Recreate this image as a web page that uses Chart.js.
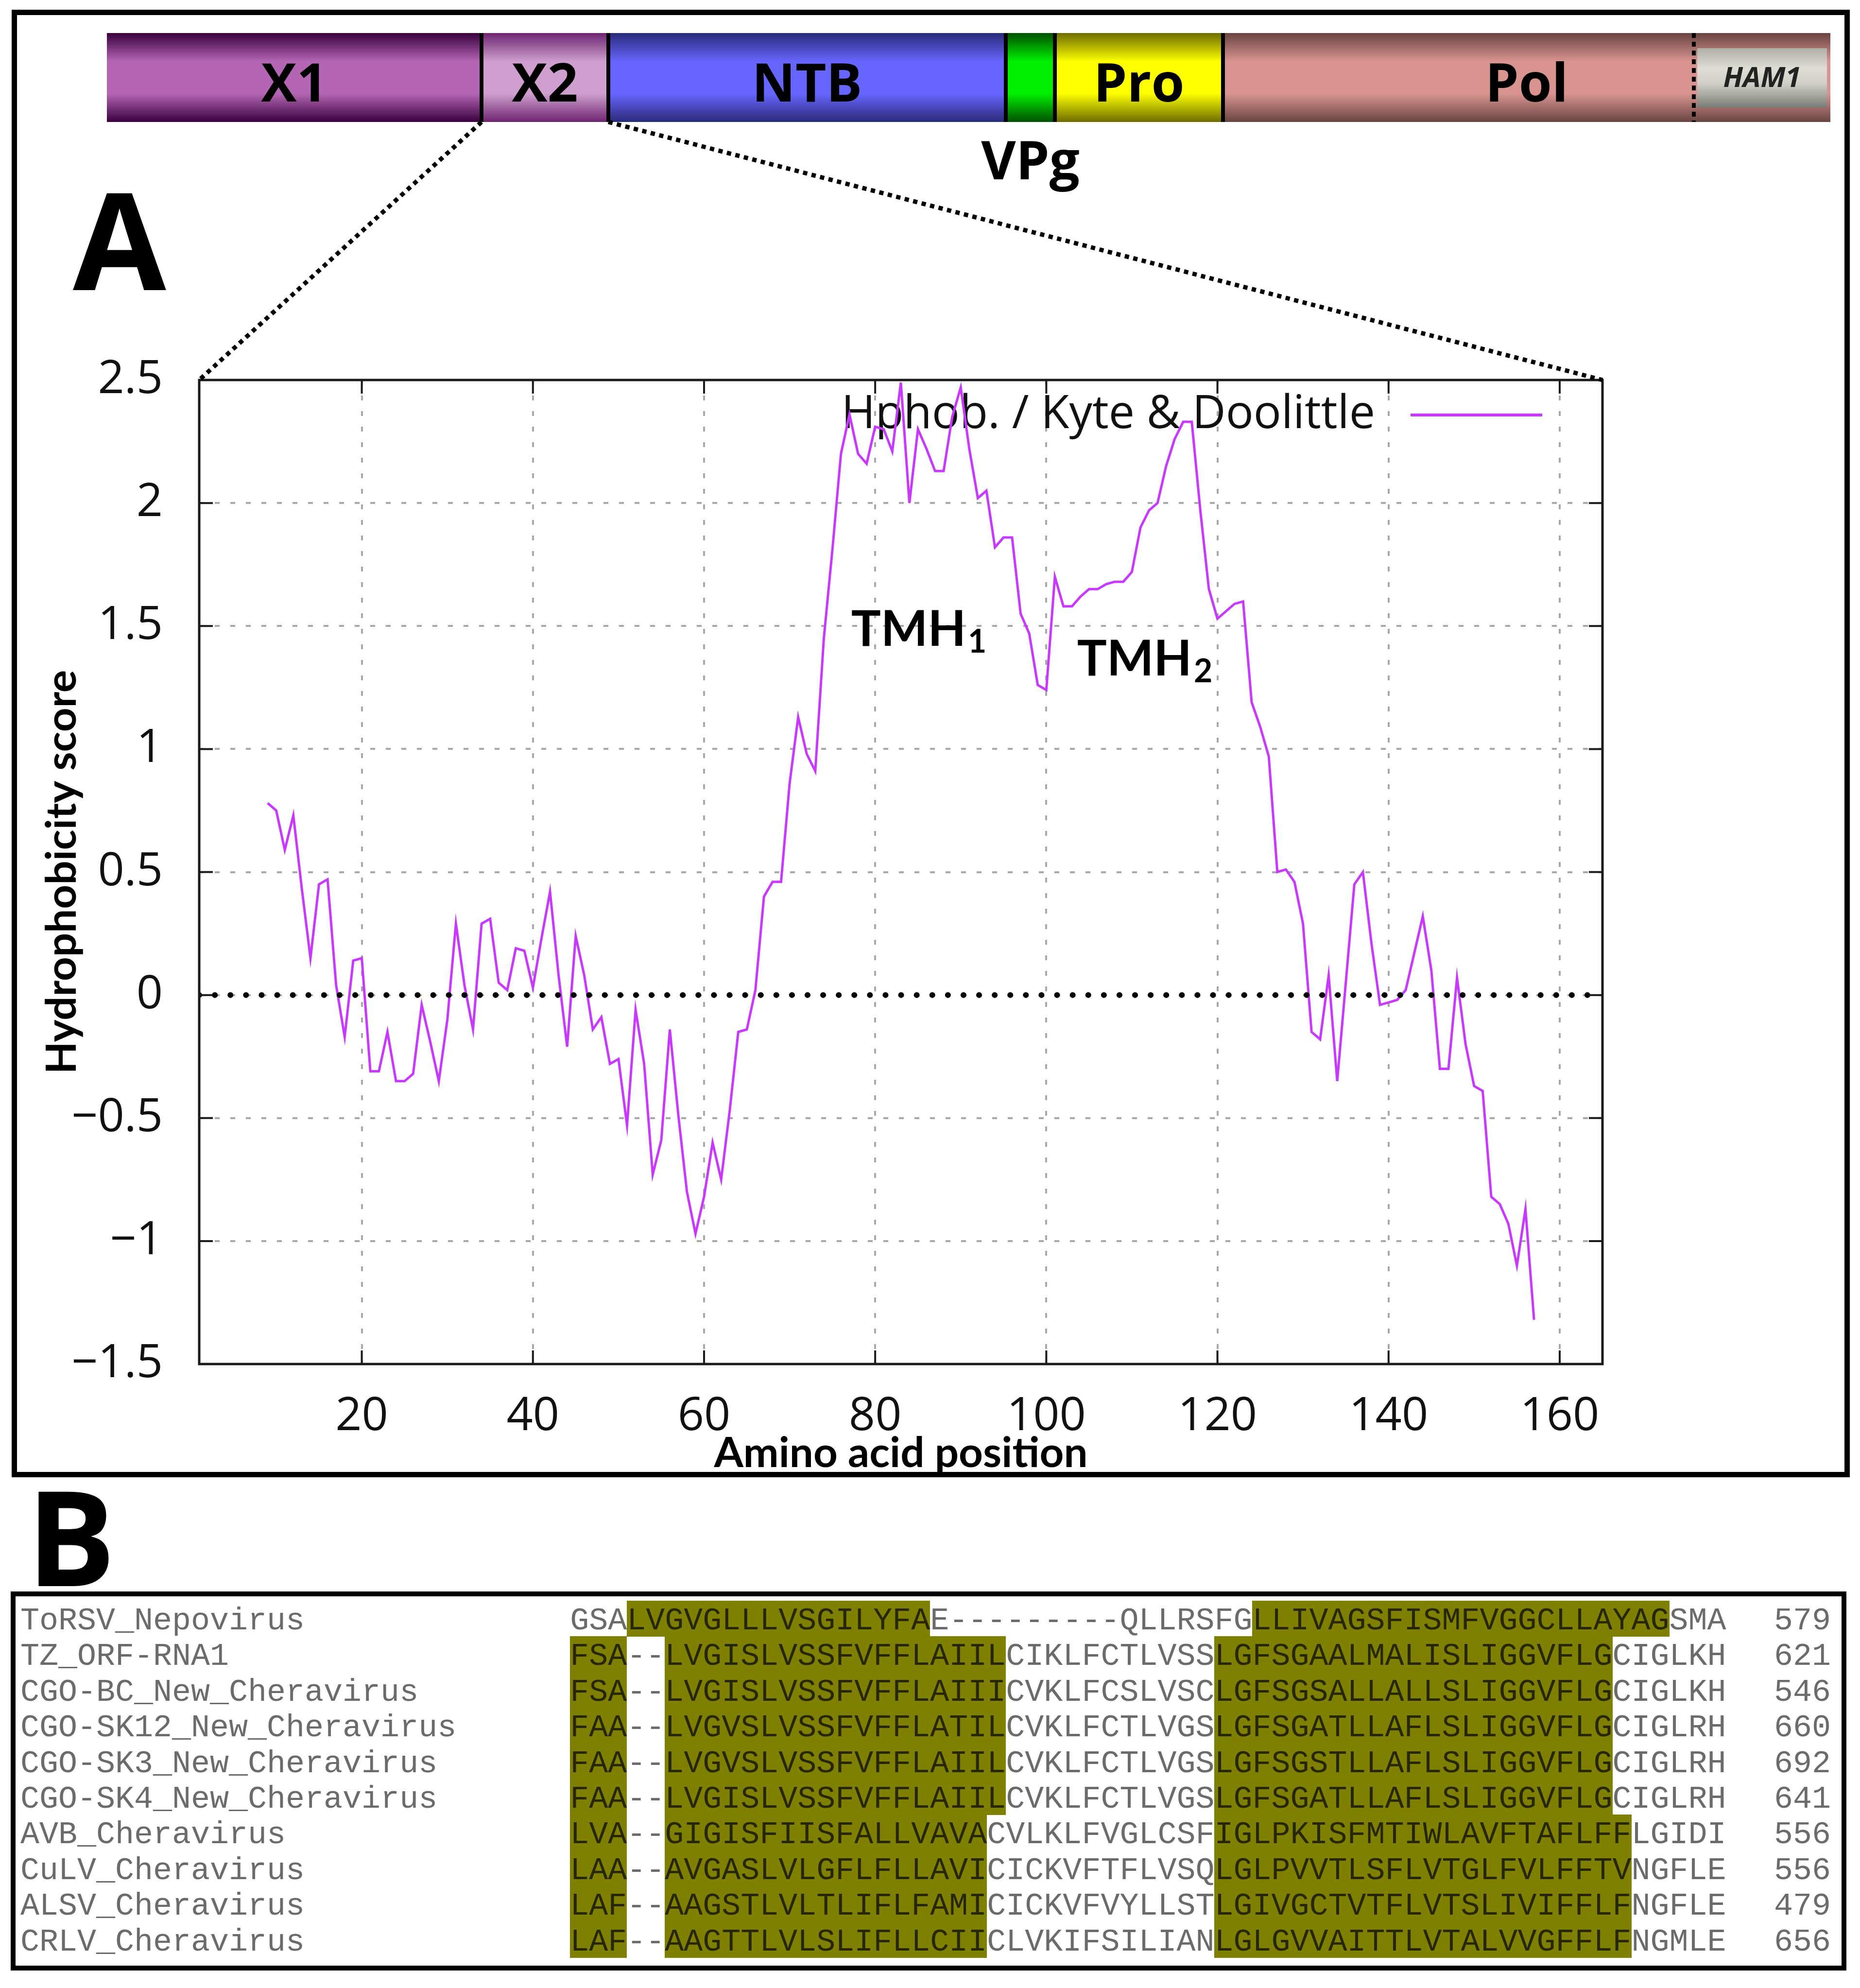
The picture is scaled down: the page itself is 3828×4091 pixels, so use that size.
<!DOCTYPE html>
<html>
<head>
<meta charset="utf-8">
<title>Hydrophobicity profile of the X2 region</title>
<script src="https://cdn.jsdelivr.net/npm/chart.js@4.4.1/dist/chart.umd.min.js"></script>
<style>
  html, body { margin: 0; padding: 0; background: #fff; }
  body { position: relative; width: 3828px; height: 4091px; overflow: hidden; }
  .frame { position: absolute; box-sizing: border-box; border: 11px solid #000; }
  #boxA { left: 24px; top: 20px; width: 3783px; height: 3020px; }
  #boxB { left: 22px; top: 3275px; width: 3778px; height: 780px; border-width: 10px; }
  .panel-letter { position: absolute; font-family: "Open Sans", sans-serif; font-weight: bold; line-height: 1; color: #000; }
  #letterA { left: 150px; top: 350px; font-size: 278px; }
  #letterB { left: 55px; top: 3023px; font-size: 272px; }
  #geneWrap { position: absolute; left: 220px; top: 68px; }
  #plotWrap { position: absolute; left: 30px; top: 650px; }
  #links { position: absolute; left: 0; top: 0; pointer-events: none; }
  .aln-row { position: absolute; left: 42px; height: 74px; white-space: pre;
             font-family: "Liberation Mono", monospace; font-size: 65px; line-height: 85px; }
  .aln-row span { display: inline-block; height: 74px; vertical-align: top; }
  .aln-row .plain { color: #6b6b6b; }
  .aln-row .tm { background: #808000; color: #262600; }
  .aln-num { position: absolute; left: 3600px; width: 168px; height: 74px; text-align: right;
             font-family: "Liberation Mono", monospace; font-size: 65px; line-height: 85px; color: #6b6b6b; }
</style>
</head>
<body>
<div id="boxA" class="frame"></div>
<div id="boxB" class="frame"></div>
<div id="letterA" class="panel-letter">A</div>
<div id="letterB" class="panel-letter">B</div>
<div id="geneWrap"><canvas id="geneMap" width="3547" height="340"></canvas></div>
<div id="plotWrap"><canvas id="hydroPlot" width="3440" height="2420"></canvas></div>
<div id="alignment"></div>
<canvas id="links" width="3828" height="4091"></canvas>

<script>
// ---- Panel A: genome map ----
const genomeRegions = ['X1', 'X2', 'NTB', 'VPg', 'Pro', 'Pol', 'HAM1'];
const regionLengths = [771, 261, 818, 101, 346, 969, 281];
const regionColors = ['#b466b4', '#cfa0cf', '#6666ff', '#00f000', '#ffff00', '#d9948f', '#d9948f'];
const regionShades = ['#3a003c', '#6e2470', '#2a2a78', '#005000', '#6c6c00', '#684440', '#684440'];

// ---- Panel A: Kyte & Doolittle profile ----
const firstResidue = 9;
const hydropathy = [
  0.78, 0.75, 0.59, 0.73, 0.43, 0.15, 0.45, 0.47, 0.04, -0.17,
  0.14, 0.15, -0.31, -0.31, -0.15, -0.35, -0.35, -0.32, -0.04, -0.19,
  -0.35, -0.10, 0.29, 0.04, -0.14, 0.29, 0.31, 0.05, 0.02, 0.19,
  0.18, 0.03, 0.23, 0.42, 0.08, -0.21, 0.24, 0.08, -0.14, -0.09,
  -0.28, -0.26, -0.53, -0.06, -0.28, -0.73, -0.59, -0.14, -0.49, -0.80,
  -0.97, -0.82, -0.60, -0.75, -0.47, -0.15, -0.14, 0.02, 0.40, 0.46,
  0.46, 0.86, 1.13, 0.98, 0.91, 1.45, 1.81, 2.20, 2.36, 2.20,
  2.16, 2.31, 2.30, 2.21, 2.49, 2.00, 2.30, 2.22, 2.13, 2.13,
  2.35, 2.47, 2.22, 2.02, 2.05, 1.82, 1.86, 1.86, 1.55, 1.47,
  1.26, 1.24, 1.70, 1.58, 1.58, 1.62, 1.65, 1.65, 1.67, 1.68,
  1.68, 1.72, 1.90, 1.97, 2.00, 2.15, 2.26, 2.33, 2.33, 1.97,
  1.65, 1.53, 1.56, 1.59, 1.60, 1.19, 1.09, 0.97, 0.50, 0.51,
  0.46, 0.29, -0.15, -0.18, 0.08, -0.35, 0.05, 0.45, 0.50, 0.21,
  -0.04, -0.03, -0.02, 0.02, 0.17, 0.32, 0.10, -0.30, -0.30, 0.07,
  -0.20, -0.37, -0.39, -0.82, -0.85, -0.93, -1.10, -0.87, -1.32
];
const xRange = [1, 165];
const xTicks = [20, 40, 60, 80, 100, 120, 140, 160];
const yTicks = [-1.5, -1, -0.5, 0, 0.5, 1, 1.5, 2, 2.5];
const yTickLabels = ['\u22121.5', '\u22121', '\u22120.5', '0', '0.5', '1', '1.5', '2', '2.5'];
const helixLabels = [
  { name: 'TMH', index: '1', x: 77.2, y: 1.42 },
  { name: 'TMH', index: '2', x: 103.6, y: 1.30 }
];

// ---- Panel B: alignment ----
const seqNames = [
  'ToRSV_Nepovirus', 'TZ_ORF-RNA1', 'CGO-BC_New_Cheravirus', 'CGO-SK12_New_Cheravirus',
  'CGO-SK3_New_Cheravirus', 'CGO-SK4_New_Cheravirus', 'AVB_Cheravirus', 'CuLV_Cheravirus',
  'ALSV_Cheravirus', 'CRLV_Cheravirus'
];
const seqAligned = [
  'GSALVGVGLLLVSGILYFAE---------QLLRSFGLLIVAGSFISMFVGGCLLAYAGSMA',
  'FSA--LVGISLVSSFVFFLAIILCIKLFCTLVSSLGFSGAALMALISLIGGVFLGCIGLKH',
  'FSA--LVGISLVSSFVFFLAIIICVKLFCSLVSCLGFSGSALLALLSLIGGVFLGCIGLKH',
  'FAA--LVGVSLVSSFVFFLATILCVKLFCTLVGSLGFSGATLLAFLSLIGGVFLGCIGLRH',
  'FAA--LVGVSLVSSFVFFLAIILCVKLFCTLVGSLGFSGSTLLAFLSLIGGVFLGCIGLRH',
  'FAA--LVGISLVSSFVFFLAIILCVKLFCTLVGSLGFSGATLLAFLSLIGGVFLGCIGLRH',
  'LVA--GIGISFIISFALLVAVACVLKLFVGLCSFIGLPKISFMTIWLAVFTAFLFFLGIDI',
  'LAA--AVGASLVLGFLFLLAVICICKVFTFLVSQLGLPVVTLSFLVTGLFVLFFTVNGFLE',
  'LAF--AAGSTLVLTLIFLFAMICICKVFVYLLSTLGIVGCTVTFLVTSLIVIFFLFNGFLE',
  'LAF--AAGTTLVLSLIFLLCIICLVKIFSILIANLGLGVVAITTLVTALVVGFFLFNGMLE'
];
const seqLastResidue = [579, 621, 546, 660, 692, 641, 556, 556, 479, 656];
const seqHelixCols = [
  [[4, 19], [37, 58]],
  [[1, 3], [6, 23], [35, 55]],
  [[1, 3], [6, 23], [35, 55]],
  [[1, 3], [6, 23], [35, 55]],
  [[1, 3], [6, 23], [35, 55]],
  [[1, 3], [6, 23], [35, 55]],
  [[1, 3], [6, 22], [35, 56]],
  [[1, 3], [6, 22], [35, 56]],
  [[1, 3], [6, 22], [35, 56]],
  [[1, 3], [6, 22], [35, 56]]
];

document.addEventListener('DOMContentLoaded', () => {
  const geneChart = initGenomeMap();
  const plotChart = initHydroPlot();
  drawZoomLinks(geneChart, plotChart);
  buildAlignment();
});

/**
 * Cylinder-like vertical shading for one genome segment
 */
function segmentGradient(context, i) {
  const { chart } = context;
  const area = chart.chartArea;
  if (!area) return regionColors[i];
  const g = chart.ctx.createLinearGradient(0, area.top, 0, area.bottom);
  g.addColorStop(0, regionShades[i]);
  g.addColorStop(0.32, regionColors[i]);
  g.addColorStop(0.68, regionColors[i]);
  g.addColorStop(1, regionShades[i]);
  return g;
}

const genomeDecor = {
  id: 'genomeDecor',
  afterDatasetsDraw(chart) {
    const { ctx, chartArea: a } = chart;
    const bars = chart.data.datasets.map((d, i) => chart.getDatasetMeta(i).data[0]);
    const ham = bars[6];
    const h = a.bottom - a.top;

    // HAM1 domain box sits inside the Pol colour
    ctx.save();
    const inTop = a.top + h * 0.17, inBot = a.bottom - h * 0.16;
    const g = ctx.createLinearGradient(0, inTop, 0, inBot);
    g.addColorStop(0, '#b0b0a8');
    g.addColorStop(0.35, '#deded6');
    g.addColorStop(0.6, '#cfcfc7');
    g.addColorStop(1, '#7a7a76');
    ctx.fillStyle = g;
    ctx.fillRect(ham.base + 7, inTop, ham.x - ham.base - 14, inBot - inTop);

    // segment borders
    ctx.strokeStyle = '#000';
    ctx.lineWidth = 8;
    for (let i = 1; i < bars.length; i++) {
      const bx = bars[i].base;
      ctx.setLineDash(i === 6 ? [10, 8] : []);
      ctx.beginPath();
      ctx.moveTo(bx, a.top);
      ctx.lineTo(bx, a.bottom);
      ctx.stroke();
    }
    ctx.setLineDash([]);

    // labels
    ctx.fillStyle = '#000';
    ctx.textAlign = 'center';
    ctx.textBaseline = 'alphabetic';
    ctx.font = 'bold 110px "Open Sans"';
    genomeRegions.forEach((name, i) => {
      const b = bars[i];
      if (name === 'VPg') {
        ctx.fillText(name, (b.base + b.x) / 2, a.bottom + 118);
      } else if (name === 'Pol') {
        ctx.fillText(name, (b.base + bars[6].x) / 2, a.top + 141);
      } else if (name === 'HAM1') {
        ctx.save();
        ctx.font = 'italic bold 58px "Open Sans"';
        ctx.fillStyle = '#222';
        ctx.fillText(name, (b.base + b.x) / 2, a.top + 111);
        ctx.restore();
      } else {
        ctx.fillText(name, (b.base + b.x) / 2, a.top + 141);
      }
    });
    ctx.restore();
  }
};

function initGenomeMap() {
  const total = regionLengths.reduce((s, v) => s + v, 0);
  return new Chart(document.getElementById('geneMap'), {
    type: 'bar',
    data: {
      labels: ['genome'],
      datasets: genomeRegions.map((name, i) => ({
        label: name,
        data: [regionLengths[i]],
        backgroundColor: ctx => segmentGradient(ctx, i),
        borderWidth: 0,
        barPercentage: 1,
        categoryPercentage: 1
      }))
    },
    options: {
      indexAxis: 'y',
      responsive: false,
      animation: false,
      devicePixelRatio: 1,
      layout: { padding: { bottom: 157 } },
      plugins: { legend: { display: false }, tooltip: { enabled: false } },
      scales: {
        x: { stacked: true, display: false, min: 0, max: total },
        y: { stacked: true, display: false }
      }
    },
    plugins: [genomeDecor]
  });
}

const plotDecor = {
  id: 'plotDecor',
  beforeDatasetsDraw(chart) {
    // gnuplot style key: text first, sample line on the right
    const { ctx, chartArea: a } = chart;
    const ds = chart.data.datasets[1];
    ctx.save();
    ctx.font = '95px "Open Sans"';
    ctx.fillStyle = '#111';
    ctx.textAlign = 'right';
    ctx.textBaseline = 'alphabetic';
    ctx.fillText(ds.label, a.right - 468, a.top + 99);
    ctx.strokeStyle = ds.borderColor;
    ctx.lineWidth = 6;
    ctx.beginPath();
    ctx.moveTo(a.right - 395, a.top + 72);
    ctx.lineTo(a.right - 124, a.top + 72);
    ctx.stroke();
    ctx.restore();
  },
  afterDatasetsDraw(chart) {
    const { ctx, chartArea: a, scales: { x, y } } = chart;
    ctx.save();
    ctx.strokeStyle = '#1a1a1a';
    ctx.lineWidth = 4;
    ctx.beginPath();
    xTicks.forEach(v => {
      const px = x.getPixelForValue(v);
      ctx.moveTo(px, a.bottom); ctx.lineTo(px, a.bottom - 28);
      ctx.moveTo(px, a.top); ctx.lineTo(px, a.top + 28);
    });
    yTicks.forEach(v => {
      const py = y.getPixelForValue(v);
      ctx.moveTo(a.left, py); ctx.lineTo(a.left + 28, py);
      ctx.moveTo(a.right, py); ctx.lineTo(a.right - 28, py);
    });
    ctx.stroke();
    ctx.lineWidth = 5;
    ctx.strokeRect(a.left, a.top, a.right - a.left, a.bottom - a.top);

    // transmembrane helix labels
    ctx.fillStyle = '#000';
    ctx.textAlign = 'left';
    ctx.textBaseline = 'alphabetic';
    helixLabels.forEach(l => {
      const px = x.getPixelForValue(l.x), py = y.getPixelForValue(l.y);
      ctx.font = 'bold 102px Lato';
      ctx.fillText(l.name, px, py);
      const w = ctx.measureText(l.name).width;
      ctx.font = 'bold 66px Lato';
      ctx.fillText(l.index, px + w + 4, py + 14);
    });
    ctx.restore();
  }
};

function initHydroPlot() {
  const profile = hydropathy.map((v, i) => ({ x: firstResidue + i, y: v }));
  const tickFont = { family: 'Open Sans', size: 95 };
  const titleFont = { family: 'Lato', size: 87, weight: 'bold' };
  return new Chart(document.getElementById('hydroPlot'), {
    type: 'line',
    data: {
      datasets: [
        {
          label: 'zero',
          data: [{ x: xRange[0], y: 0 }, { x: xRange[1], y: 0 }],
          borderColor: '#000',
          borderWidth: 12,
          borderDash: [0.1, 32],
          borderCapStyle: 'round',
          pointRadius: 0,
          order: 0
        },
        {
          label: 'Hphob. / Kyte & Doolittle',
          data: profile,
          borderColor: '#c838ff',
          borderWidth: 5,
          pointRadius: 0,
          tension: 0,
          order: 1
        }
      ]
    },
    options: {
      responsive: false,
      animation: false,
      devicePixelRatio: 1,
      layout: { padding: { top: 123, right: 172, left: 0, bottom: 0 } },
      plugins: { legend: { display: false }, tooltip: { enabled: false } },
      scales: {
        x: {
          type: 'linear',
          min: xRange[0],
          max: xRange[1],
          afterBuildTicks: scale => { scale.ticks = xTicks.map(v => ({ value: v })); },
          afterFit: scale => { scale.height = 263; },
          ticks: { font: tickFont, color: '#111', padding: 52, maxRotation: 0, autoSkip: false },
          grid: { color: '#a8a8a8', lineWidth: 4, drawTicks: false },
          border: { display: false, dash: [10, 22] },
          title: { display: true, text: 'Amino acid position', font: titleFont, color: '#000', padding: { top: 0, bottom: 27 } }
        },
        y: {
          min: yTicks[0],
          max: yTicks[yTicks.length - 1],
          afterBuildTicks: scale => { scale.ticks = yTicks.map(v => ({ value: v })); },
          afterFit: scale => { scale.width = 380; },
          ticks: { font: tickFont, color: '#111', padding: 75, callback: (v, i) => yTickLabels[i] },
          grid: { color: '#a8a8a8', lineWidth: 4, drawTicks: false },
          border: { display: false, dash: [10, 22] },
          title: { display: true, text: 'Hydrophobicity score', font: titleFont, color: '#000', padding: { top: 46, bottom: 0 } }
        }
      }
    },
    plugins: [plotDecor]
  });
}

/**
 * Dotted lines that tie the X2 segment to the zoomed plot
 */
function drawZoomLinks(geneChart, plotChart) {
  const ctx = document.getElementById('links').getContext('2d');
  const gRect = geneChart.canvas.getBoundingClientRect();
  const pRect = plotChart.canvas.getBoundingClientRect();
  const x2 = geneChart.getDatasetMeta(1).data[0];
  const gy = gRect.top + geneChart.chartArea.bottom;
  const a = plotChart.chartArea;
  ctx.strokeStyle = '#000';
  ctx.lineWidth = 9;
  ctx.setLineDash([9, 9]);
  ctx.beginPath();
  ctx.moveTo(gRect.left + x2.base, gy);
  ctx.lineTo(pRect.left + a.left, pRect.top + a.top);
  ctx.moveTo(gRect.left + x2.x, gy);
  ctx.lineTo(pRect.left + a.right, pRect.top + a.top);
  ctx.stroke();
}

/**
 * Builds the shaded multiple sequence alignment of panel B
 */
function buildAlignment() {
  const host = document.getElementById('alignment');
  seqNames.forEach((name, r) => {
    const top = 3294 + r * 73.4;
    const row = document.createElement('div');
    row.className = 'aln-row';
    row.style.top = top + 'px';
    const seq = seqAligned[r];
    let html = `<span class="plain">${name.padEnd(29)}</span>`;
    let col = 1;
    seqHelixCols[r].forEach(([from, to]) => {
      if (from > col) html += `<span class="plain">${seq.slice(col - 1, from - 1)}</span>`;
      html += `<span class="tm">${seq.slice(from - 1, to)}</span>`;
      col = to + 1;
    });
    html += `<span class="plain">${seq.slice(col - 1)}</span>`;
    row.innerHTML = html;
    host.appendChild(row);

    const num = document.createElement('div');
    num.className = 'aln-num';
    num.style.top = top + 'px';
    num.textContent = seqLastResidue[r];
    host.appendChild(num);
  });
}
</script>
</body>
</html>
